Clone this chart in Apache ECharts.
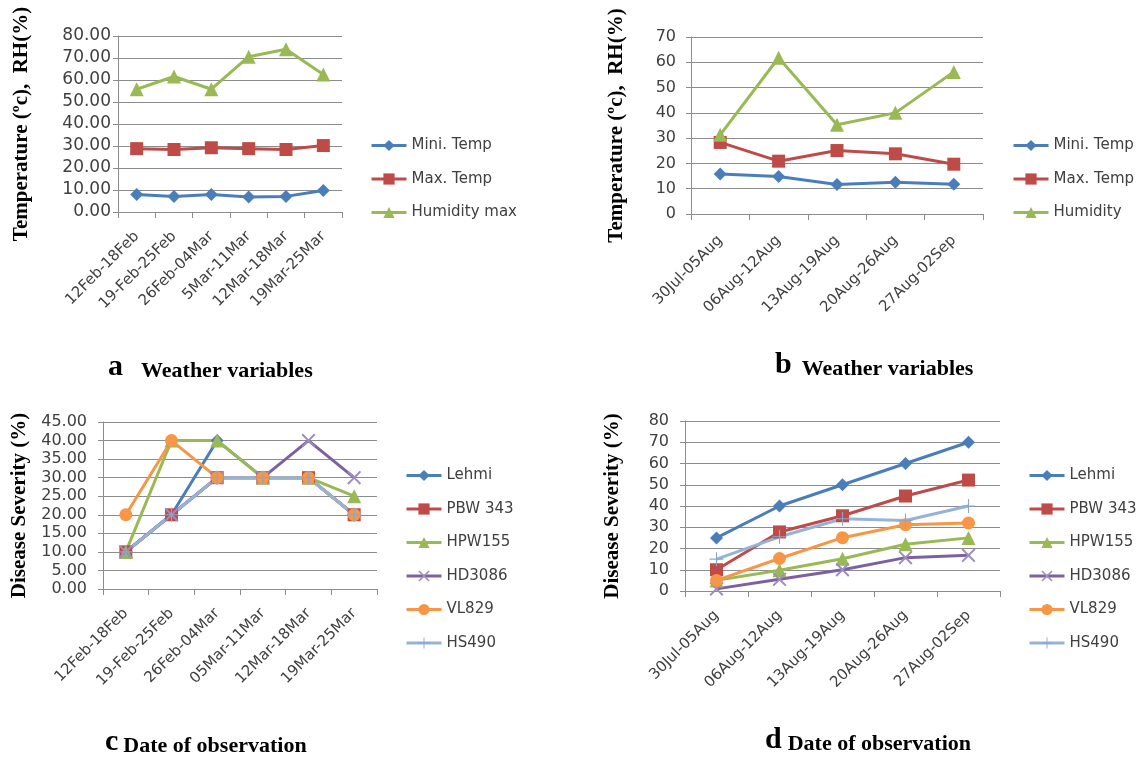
<!DOCTYPE html>
<html>
<head>
<meta charset="utf-8">
<script src="https://cdn.jsdelivr.net/npm/echarts@6/dist/echarts.min.js"></script>
<style>
  html, body { margin: 0; padding: 0; background: #fff; }
  #chart { width: 1140px; height: 760px; }
</style>
</head>
<body>
<div id="chart"></div>
<script>
// weeks of observation
const weeksFeb = ['12Feb-18Feb', '19-Feb-25Feb', '26Feb-04Mar', '5Mar-11Mar', '12Mar-18Mar', '19Mar-25Mar'];
const weeksAug = ['30Jul-05Aug', '06Aug-12Aug', '13Aug-19Aug', '20Aug-26Aug', '27Aug-02Sep'];
const weeksFebC = ['12Feb-18Feb', '19-Feb-25Feb', '26Feb-04Mar', '05Mar-11Mar', '12Mar-18Mar', '19Mar-25Mar'];

// a - weather (Feb/Mar)
const minTempA = [8.0, 7.1, 8.0, 6.8, 7.1, 9.8];
const maxTempA = [28.8, 28.4, 29.2, 28.8, 28.4, 30.2];
const humidA = [55.8, 61.6, 55.8, 70.6, 74.0, 62.5];

// b - weather (Aug)
const minTempB = [15.8, 14.8, 11.7, 12.6, 11.8];
const maxTempB = [28.3, 20.9, 25.1, 23.8, 19.7];
const humidB = [31.3, 61.8, 35.3, 40.0, 56.2];

// c - disease severity (Feb/Mar)
const lehmiC = [10, 20, 40, 30, 30, 20];
const pbwC = [10, 20, 30, 30, 30, 20];
const hpwC = [10, 40, 40, 30, 30, 25];
const hdC = [10, 20, 30, 30, 40, 30];
const vlC = [20, 40, 30, 30, 30, 20];
const hsC = [10, 20, 30, 30, 30, 20];

// d - disease severity (Aug)
const lehmiD = [25, 40, 50, 60, 70];
const pbwD = [10, 27.8, 35.4, 44.7, 52.2];
const hpwD = [5, 9.8, 15.2, 22, 25];
const hdD = [1, 5.5, 10, 15.7, 16.8];
const vlD = [5, 15.3, 25.1, 31.2, 32];
const hsD = [15, 25.5, 34, 33.2, 40];

const weatherNames = ['Mini. Temp', 'Max. Temp'];
const varieties = ['Lehmi', 'PBW 343', 'HPW155', 'HD3086', 'VL829', 'HS490'];

const C = {
  blue: '#4A7EBB', red: '#BE4B48', green: '#98B954', purple: '#7D60A0',
  orange: '#F79646', light: '#95B3D7'
};
const crossPath = 'path://M0,1L1,0L5,4L9,0L10,1L6,5L10,9L9,10L5,6L1,10L0,9L4,5Z';
const plusPath = 'path://M4.6,0H5.4V4.6H10V5.4H5.4V10H4.6V5.4H0V4.6H4.6Z';

const STY = {
  'Mini. Temp': { color: C.blue, symbol: 'diamond', size: 13 },
  'Max. Temp': { color: C.red, symbol: 'rect', size: 13 },
  'Humidity max': { color: C.green, symbol: 'triangle', size: 14 },
  'Humidity': { color: C.green, symbol: 'triangle', size: 14 },
  'Lehmi': { color: C.blue, symbol: 'diamond', size: 13 },
  'PBW 343': { color: C.red, symbol: 'rect', size: 13 },
  'HPW155': { color: C.green, symbol: 'triangle', size: 14 },
  'HD3086': { color: C.purple, symbol: crossPath, size: 14, markColor: '#9d8cbf' },
  'VL829': { color: C.orange, symbol: 'circle', size: 13 },
  'HS490': { color: C.light, symbol: plusPath, size: 14, markColor: '#8aa6cc' }
};

function line(name, data, idx) {
  const s = STY[name];
  return {
    name: name,
    type: 'line',
    data: data,
    xAxisIndex: idx,
    yAxisIndex: idx,
    symbol: s.symbol,
    symbolSize: s.size,
    showAllSymbol: true,
    lineStyle: { color: s.color, width: 3 },
    itemStyle: { color: s.markColor || s.color },
    animation: false
  };
}

const grids = [
  { left: 118, top: 36, width: 224, height: 176 },
  { left: 691, top: 37, width: 292, height: 177 },
  { left: 103, top: 422, width: 274, height: 167 },
  { left: 685, top: 421, width: 315, height: 170 }
];

const gridLineColor = '#8c8c8c';
const tickFont = 'DejaVu Sans';

function xAxis(cats, idx, margin) {
  return {
    type: 'category',
    gridIndex: idx,
    data: cats,
    boundaryGap: true,
    axisLine: { lineStyle: { color: gridLineColor } },
    axisTick: { show: true, length: 6, lineStyle: { color: gridLineColor } },
    axisLabel: { rotate: 45, interval: 0, color: '#404040', fontSize: 15, fontFamily: tickFont, margin: margin }
  };
}

function yAxis(idx, max, interval, decimals, name, gap, fs, margin) {
  return {
    type: 'value',
    gridIndex: idx,
    min: 0,
    max: max,
    interval: interval,
    name: name,
    nameLocation: 'middle',
    nameRotate: 90,
    nameGap: gap,
    nameTextStyle: { fontFamily: 'Liberation Serif', fontWeight: 'bold', fontSize: 21, color: '#000' },
    axisLine: { show: true, lineStyle: { color: gridLineColor } },
    axisTick: { show: true, length: 5, lineStyle: { color: gridLineColor } },
    splitLine: { lineStyle: { color: gridLineColor, width: 1 } },
    axisLabel: {
      color: '#404040', fontSize: fs, fontFamily: tickFont, margin: margin,
      formatter: v => v.toFixed(decimals)
    }
  };
}

function legend(names, left, top) {
  return {
    data: names,
    orient: 'vertical',
    left: left,
    top: top,
    padding: 0,
    itemWidth: 35,
    itemHeight: 14,
    itemGap: 18.5,
    lineStyle: { width: 3 },
    textStyle: { color: '#404040', fontSize: 15, fontFamily: tickFont }
  };
}

function caption(letter, text, x, y, gap) {
  return {
    type: 'text',
    left: x,
    top: y,
    style: {
      text: '{l|' + letter + '}{t|' + text + '}',
      rich: {
        l: { fontFamily: 'Liberation Serif', fontWeight: 'bold', fontSize: 30, fill: '#000', verticalAlign: 'bottom', padding: [0, gap, 0, 0] },
        t: { fontFamily: 'Liberation Serif', fontWeight: 'bold', fontSize: 22, fill: '#000', verticalAlign: 'bottom' }
      }
    }
  };
}

const tempName = 'Temperature (ºc),  RH(%)';
const sevName = 'Disease Severity (%)';

const chart = echarts.init(document.getElementById('chart'));
chart.setOption({
  backgroundColor: '#fff',
  animation: false,
  grid: grids,
  xAxis: [xAxis(weeksFeb, 0, 22), xAxis(weeksAug, 1, 24), xAxis(weeksFebC, 2, 22), xAxis(weeksAug, 3, 22)],
  yAxis: [
    yAxis(0, 80, 10, 2, tempName, 86, 17, 7),
    yAxis(1, 70, 10, 0, tempName, 64, 16, 15),
    yAxis(2, 45, 5, 2, sevName, 73, 16, 16),
    yAxis(3, 80, 10, 0, sevName, 62, 16, 16)
  ],
  legend: [
    legend(weatherNames.concat(['Humidity max']), 370, 138),
    legend(weatherNames.concat(['Humidity']), 1012, 138),
    legend(varieties, 405, 468),
    legend(varieties, 1028, 468)
  ],
  series: [
    line('Mini. Temp', minTempA, 0),
    line('Max. Temp', maxTempA, 0),
    line('Humidity max', humidA, 0),
    line('Mini. Temp', minTempB, 1),
    line('Max. Temp', maxTempB, 1),
    line('Humidity', humidB, 1),
    line('Lehmi', lehmiC, 2),
    line('PBW 343', pbwC, 2),
    line('HPW155', hpwC, 2),
    line('HD3086', hdC, 2),
    line('VL829', vlC, 2),
    line('HS490', hsC, 2),
    line('Lehmi', lehmiD, 3),
    line('PBW 343', pbwD, 3),
    line('HPW155', hpwD, 3),
    line('HD3086', hdD, 3),
    line('VL829', vlD, 3),
    line('HS490', hsD, 3)
  ],
  graphic: [
    caption('a', 'Weather variables', 108, 352, 18),
    caption('b', 'Weather variables', 775, 350, 10),
    caption('c', 'Date of observation', 105, 727, 5),
    caption('d', 'Date of observation', 765, 725, 6)
  ]
});
window.addEventListener('resize', () => {
  chart.resize();
});
</script>
</body>
</html>
